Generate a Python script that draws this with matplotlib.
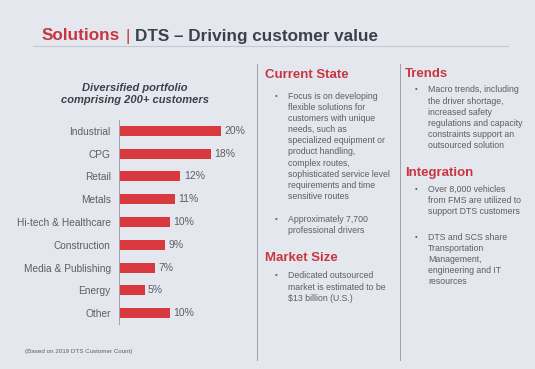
import matplotlib.pyplot as plt

categories = ['Industrial', 'CPG', 'Retail', 'Metals', 'Hi-tech & Healthcare',
              'Construction', 'Media & Publishing', 'Energy', 'Other']
shares = [20, 18, 12, 11, 10, 9, 7, 5, 10]

current_state = [
    ['Focus is on developing', 'flexible solutions for', 'customers with unique',
     'needs, such as', 'specialized equipment or', 'product handling,',
     'complex routes,', 'sophisticated service level', 'requirements and time',
     'sensitive routes'],
    ['Approximately 7,700', 'professional drivers'],
]
market_size = [['Dedicated outsourced', 'market is estimated to be', '$13 billion (U.S.)']]
trends = [['Macro trends, including', 'the driver shortage,', 'increased safety',
           'regulations and capacity', 'constraints support an', 'outsourced solution']]
integration = [
    ['Over 8,000 vehicles', 'from FMS are utilized to', 'support DTS customers'],
    ['DTS and SCS share', 'Transportation', 'Management,', 'engineering and IT',
     'resources'],
]

W, H = 535, 369
BG = '#e4e8ee'
RED = '#c8363f'
BAR = '#d9383f'
GREY = '#5c5f66'
DARK = '#3c4048'

plt.rcParams['font.family'] = ['Liberation Sans', 'DejaVu Sans']

fig = plt.figure(figsize=(W / 100, H / 100), dpi=100, facecolor=BG)


def fx(x):
    return x / W


def fy(y):
    return 1 - y / H


# title, drawn piece by piece
x = 42
for txt, col, wt, gap in [('Solutions', RED, 'bold', 5), ('|', RED, 'normal', 5),
                          ('DTS \u2013 Driving customer value', DARK, 'bold', 0)]:
    t = fig.text(fx(x), fy(36), txt, color=col, fontsize=12.3, fontweight=wt,
                 va='center', ha='left')
    fig.canvas.draw()
    x = t.get_window_extent().x1 + gap
fig.add_artist(plt.Line2D([fx(33), fx(508)], [fy(46), fy(46)], color='#c4c8cf', lw=0.8))

# separators
for x in (257, 400):
    fig.add_artist(plt.Line2D([fx(x), fx(x)], [fy(64), fy(360)], color='#9da2aa', lw=0.7))

# chart subtitle
fig.text(fx(135), fy(94), 'Diversified portfolio\ncomprising 200+ customers', color=DARK,
         fontsize=8, fontweight='bold', fontstyle='italic', ha='center', va='center',
         linespacing=1.3)

# bar chart
ax = fig.add_axes([fx(119), fy(324), (250 - 119) / W, (324 - 120) / H])
ax.set_facecolor('none')
ypos = list(range(len(categories)))
ax.barh(ypos, shares, height=0.44, color=BAR)
ax.set_xlim(0, 131 / 5.1)
ax.set_ylim(8.48, -0.48)
for i, v in enumerate(shares):
    ax.text(v + 0.7, i, f'{v}%', color=GREY, fontsize=7.5, va='center', ha='left')
ax.set_yticks(ypos)
ax.set_yticklabels(categories, color=GREY, fontsize=7.3)
ax.tick_params(axis='y', length=0, pad=6)
ax.set_xticks([])
for s in ('top', 'right', 'bottom'):
    ax.spines[s].set_visible(False)
ax.spines['left'].set_color('#9da2aa')
ax.spines['left'].set_linewidth(0.7)

fig.text(fx(25), fy(352), '(Based on 2019 DTS Customer Count)', color=GREY, fontsize=4.5,
         va='center', ha='left')


def section(x, y, title, groups, starts):
    fig.text(fx(x), fy(y), title, color=RED, fontsize=9.5, fontweight='bold',
             va='center', ha='left')
    for lines, y0 in zip(groups, starts):
        fig.text(fx(x + 10), fy(y0), '\u2022', color=GREY, fontsize=5.5, va='center', ha='left')
        for k, line in enumerate(lines):
            fig.text(fx(x + 23), fy(y0 + 11.2 * k), line, color=GREY, fontsize=6.3,
                     va='center', ha='left')


section(265, 75, 'Current State', current_state, [96, 219])
section(265, 258, 'Market Size', market_size, [276])
section(405, 74, 'Trends', trends, [90])
section(405, 173, 'Integration', integration, [189, 237])

fig.savefig('out.png', dpi=100, facecolor=BG)
